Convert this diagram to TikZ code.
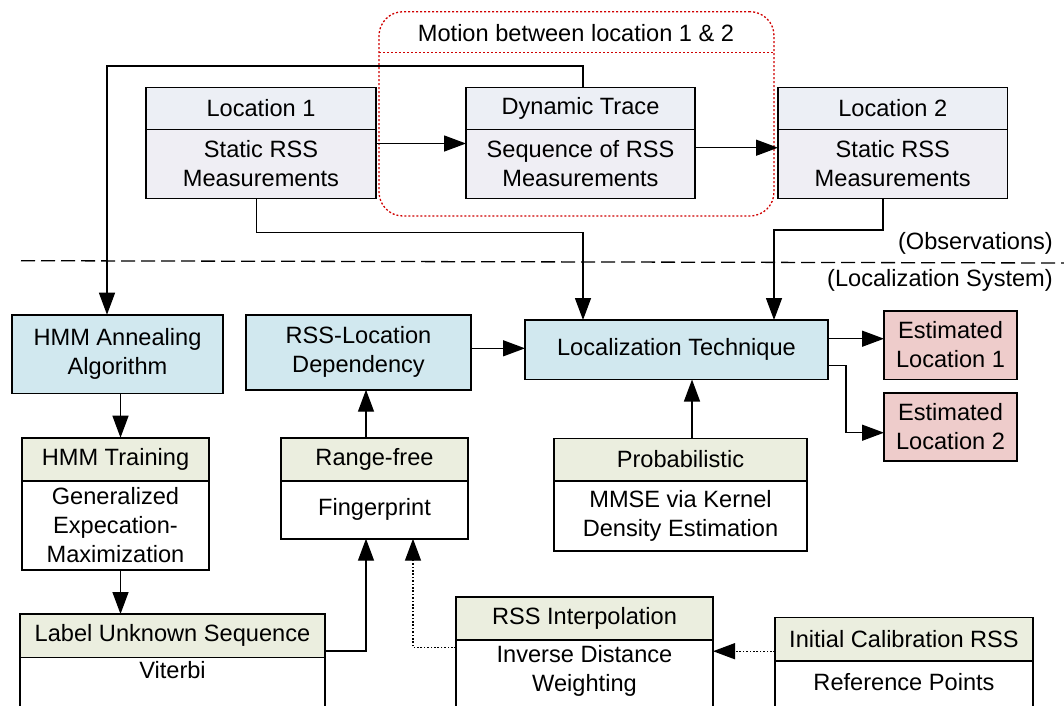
\documentclass[tikz,border=0pt]{standalone}
\usepackage{fontspec}
\setmainfont{Liberation Sans}
\usetikzlibrary{arrows.meta}
\definecolor{hdr}{HTML}{ECEFF5}
\definecolor{bod}{HTML}{EFEEF4}
\definecolor{blu}{HTML}{D1E8EF}
\definecolor{grn}{HTML}{EBEEDF}
\definecolor{pnk}{HTML}{EECCCB}
\definecolor{motred}{HTML}{D00000}
\newcommand\bx[7]{\node[box,#6,minimum width={(#4-#2)*1pt},minimum height={(#5-#3)*1pt}] (#1) at (#2,#3) {#7};}
\begin{document}
\begin{tikzpicture}[x=1pt,y=-1pt,font=\fontsize{23.6}{29}\selectfont,
  box/.style={draw,line width=1.6pt,inner sep=0pt,outer sep=0pt,align=center,anchor=north west},
  arr/.style={line width=1.4pt,-{Triangle[length=22pt,width=16pt]}},
  dots/.style={dash pattern=on 1.6pt off 1.8pt},
  lbl/.style={inner sep=0pt,align=center}]
\useasboundingbox (0,0) rectangle (1064,705);
\clip (0,0) rectangle (1064,705);
% motion group
\bx{mot}{379}{11.7}{774}{216}{draw=motred,line width=1.3pt,dash pattern=on 2pt off 2pt,rounded corners=24pt}{}
\coordinate (ms) at (0,52.7);
\draw[motred,line width=1.3pt,dash pattern=on 2pt off 2pt] (mot.west |- ms) -- (mot.east |- ms);
\node[lbl] (mott) at (576,33) {Motion between location 1 \& 2};
% top boxes
\bx{l1h}{146}{87.3}{376}{129.3}{fill=hdr}{Location 1}
\bx{l1b}{146}{129.3}{376}{198.3}{fill=bod}{Static RSS\\Measurements}
\bx{dth}{466}{87.3}{695}{129.3}{fill=hdr}{Dynamic Trace}
\bx{dtb}{466}{129.3}{695}{198.3}{fill=bod}{Sequence of RSS\\Measurements}
\bx{l2h}{778}{87.3}{1007.5}{129.3}{fill=hdr}{Location 2}
\bx{l2b}{778}{129.3}{1007.5}{198.3}{fill=bod}{Static RSS\\Measurements}
% separator
\coordinate (dl1) at (21,260.7);
\coordinate (dl2) at (1064,263);
\draw[line width=1.3pt,dash pattern=on 14pt off 6pt] (dl1) -- (dl2);
\node[lbl,anchor=east] (obs) at (1053,243) {(Observations)};
\node[lbl,anchor=east] (locs) at (1053,280) {(Localization System)};
% system boxes
\bx{hmma}{12}{314.7}{223}{393.3}{fill=blu}{HMM Annealing\\Algorithm}
\bx{rld}{246}{314.7}{471}{389.7}{fill=blu}{RSS-Location\\Dependency}
\bx{lt}{525}{320}{828}{379.5}{fill=blu}{Localization Technique}
\bx{el1}{884}{310.7}{1017}{379.3}{fill=pnk}{Estimated\\Location 1}
\bx{el2}{884}{392.7}{1017}{461}{fill=pnk}{Estimated\\Location 2}
\bx{hth}{22}{437.7}{209}{480.7}{fill=grn}{HMM Training}
\bx{htb}{22}{480.7}{209}{570}{fill=white}{Generalized\\Expecation-\\Maximization}
\bx{rfh}{281}{437.7}{468}{480.7}{fill=grn}{Range-free}
\bx{rfb}{281}{480.7}{468}{538.7}{fill=white}{Fingerprint}
\bx{prh}{554}{438.3}{807}{480.7}{fill=grn}{Probabilistic}
\bx{prb}{554}{480.7}{807}{551}{fill=white}{MMSE via Kernel\\Density Estimation}
\bx{luh}{20}{614}{325}{657.3}{fill=grn}{Label Unknown Sequence}
\bx{lub}{20}{657.3}{325}{720}{fill=white}{}
\node[lbl] (lut) at (172.5,670.5) {Viterbi};
\bx{rih}{456}{596.7}{713}{640}{fill=grn}{RSS Interpolation}
\bx{rib}{456}{640}{713}{720}{fill=white}{}
\node[lbl] (rit) at (584.5,671) {Inverse Distance\\Weighting};
\bx{ich}{775}{617.3}{1033}{660.7}{fill=grn}{Initial Calibration RSS}
\bx{icb}{775}{660.7}{1033}{720}{fill=white}{}
\node[lbl] (ict) at (904,682) {Reference Points};
% connectors
\coordinate (y1) at (0,143.5);
\coordinate (y2) at (0,147.7);
\draw[arr] (l1b.east |- y1) -- (dtb.west |- y1);
\draw[arr] (dtb.east |- y2) -- (l2b.west |- y2);
\coordinate (fb1) at (583,66);
\coordinate (fb2) at (107,66);
\draw[arr] (dth.north -| fb1) -- (fb1) -- (fb2) -- (fb2 |- hmma.north);
\coordinate (a1) at (256.5,232.3);
\coordinate (a2) at (583,232.3);
\draw[arr] (l1b.south -| a1) -- (a1) -- (a2) -- (a2 |- lt.north);
\coordinate (b1) at (883,230);
\coordinate (b2) at (774,230);
\draw[arr] (l2b.south -| b1) -- (b1) -- (b2) -- (b2 |- lt.north);
\coordinate (y3) at (0,348.3);
\draw[arr] (rld.east |- y3) -- (lt.west |- y3);
\coordinate (y4) at (0,338.7);
\draw[arr] (lt.east |- y4) -- (el1.west |- y4);
\coordinate (c1) at (846,365.7);
\coordinate (c2) at (846,432.7);
\draw[arr] (lt.east |- c1) -- (c1) -- (c2) -- (el2.west |- c2);
\coordinate (x692) at (692,0);
\draw[arr] (prh.north -| x692) -- (lt.south -| x692);
\coordinate (x366) at (366,0);
\draw[arr] (rfh.north -| x366) -- (rld.south -| x366);
\coordinate (x120) at (120.5,0);
\draw[arr] (hmma.south -| x120) -- (hth.north -| x120);
\draw[arr] (htb.south -| x120) -- (luh.north -| x120);
\coordinate (d1) at (366,651);
\draw[arr] (luh.east |- d1) -- (d1) -- (d1 |- rfb.south);
\coordinate (e1) at (413,647.5);
\draw[arr,dots] (rib.west |- e1) -- (e1) -- (e1 |- rfb.south);
\coordinate (f1) at (0,651.2);
\draw[arr,dots] (ich.west |- f1) -- (rib.east |- f1);
\end{tikzpicture}
\end{document}
